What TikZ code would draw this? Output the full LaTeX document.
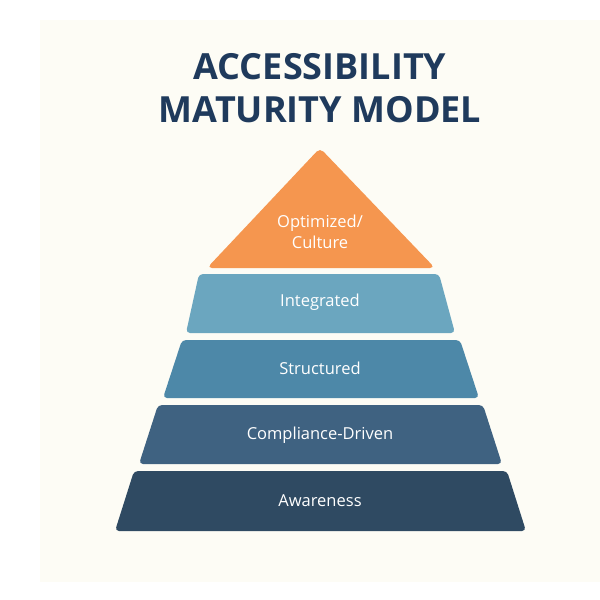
\documentclass[tikz,border=0pt]{standalone}
\usepackage{fontspec}
\setmainfont{Open Sans}
\begin{document}
\begin{tikzpicture}[x=1pt,y=-1pt,
  lvl/.style={rounded corners=4pt},
  lab/.style={text=white,font=\fontsize{16.5}{21}\selectfont,align=center,inner sep=0pt},
  ttl/.style={text=titlec,font=\bfseries\fontsize{36}{44}\selectfont,inner sep=0pt}]
\definecolor{bgc}{HTML}{FDFCF5}
\definecolor{titlec}{HTML}{1F3A5C}
\definecolor{c1}{HTML}{F5964F}
\definecolor{c2}{HTML}{6BA6BF}
\definecolor{c3}{HTML}{4D88A8}
\definecolor{c4}{HTML}{3F6281}
\definecolor{c5}{HTML}{2F4A62}
\useasboundingbox (0,0) rectangle (600,600);
\fill[white] (0,0) rectangle (600,600);
\fill[bgc] (40,20) rectangle (600,582);
\node[ttl] (t1) at (320,67) {ACCESSIBILITY};
\node[ttl] (t2) at (320,110) {MATURITY MODEL};
\fill[c1,rounded corners=5pt] (320,148) -- (435,268) -- (207,268) -- cycle;
\fill[c2,lvl] (199,274) -- (439,274) -- (455,333) -- (186,333) -- cycle;
\fill[c3,lvl] (182,340) -- (460,340) -- (479,398) -- (163,398) -- cycle;
\fill[c4,lvl] (158,405) -- (483,405) -- (502,464) -- (139,464) -- cycle;
\fill[c5,lvl] (134,471) -- (507,471) -- (526,531) -- (115,531) -- cycle;
\node[lab] (l1) at (320,232) {Optimized/\\Culture};
\node[lab] (l2) at (320,302) {Integrated};
\node[lab] (l3) at (320,368) {Structured};
\node[lab] (l4) at (320,435) {Compliance-Driven};
\node[lab] (l5) at (320,501) {Awareness};
\end{tikzpicture}
\end{document}
